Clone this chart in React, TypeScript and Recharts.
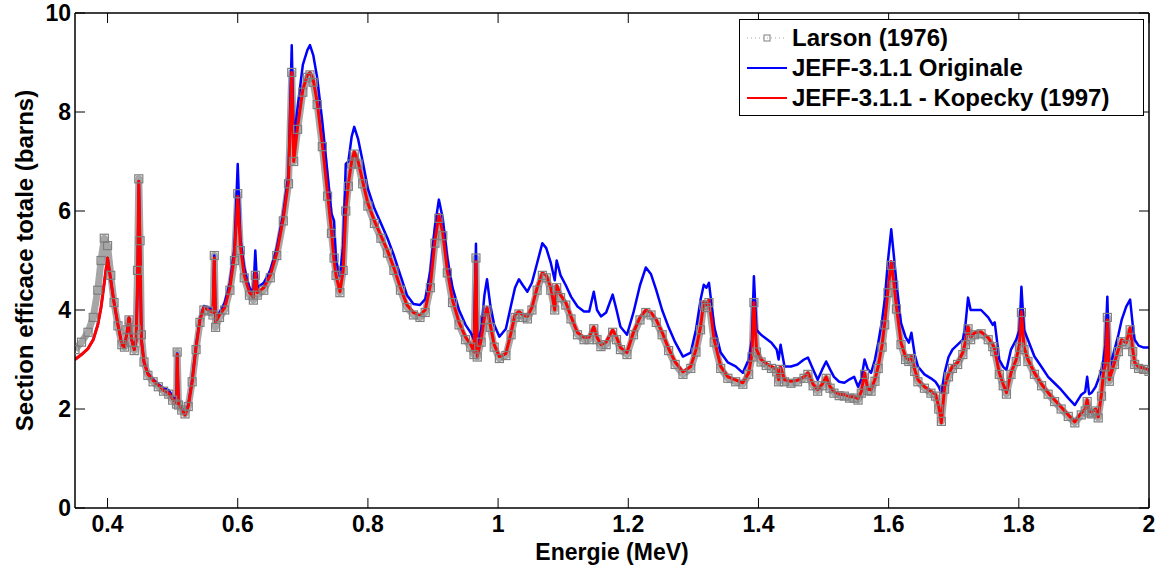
import React from 'react';
import { LineChart, Line, XAxis, YAxis, Legend } from 'recharts';

// Energy grid (MeV) shared by the three curves
const energy = [
  0.350, 0.360, 0.370, 0.378, 0.385, 0.390, 0.395, 0.400, 0.405, 0.410,
  0.416, 0.422, 0.426, 0.430, 0.433, 0.437, 0.441, 0.444, 0.446, 0.448,
  0.450, 0.452, 0.456, 0.462, 0.470, 0.478, 0.486, 0.494, 0.500, 0.506,
  0.507, 0.509, 0.514, 0.519, 0.524, 0.530, 0.536, 0.542, 0.548, 0.555,
  0.562, 0.564, 0.566, 0.572, 0.580, 0.588, 0.595, 0.600, 0.604, 0.610,
  0.618, 0.624, 0.627, 0.630, 0.640, 0.650, 0.660, 0.670, 0.678, 0.683,
  0.686, 0.692, 0.700, 0.707, 0.711, 0.716, 0.722, 0.730, 0.738, 0.744,
  0.748, 0.751, 0.757, 0.762, 0.766, 0.770, 0.775, 0.779, 0.785, 0.792,
  0.800, 0.810, 0.820, 0.830, 0.840, 0.850, 0.860, 0.870, 0.880, 0.888,
  0.896, 0.903, 0.909, 0.915, 0.922, 0.930, 0.940, 0.950, 0.958, 0.963,
  0.966, 0.968, 0.974, 0.979, 0.983, 0.988, 0.994, 1.002, 1.012, 1.020,
  1.026, 1.032, 1.038, 1.045, 1.052, 1.060, 1.068, 1.074, 1.081, 1.087,
  1.090, 1.096, 1.104, 1.112, 1.122, 1.132, 1.140, 1.147, 1.152, 1.158,
  1.166, 1.176, 1.182, 1.188, 1.198, 1.208, 1.218, 1.227, 1.235, 1.243,
  1.252, 1.262, 1.272, 1.284, 1.296, 1.304, 1.311, 1.316, 1.320, 1.324,
  1.332, 1.342, 1.353, 1.365, 1.376, 1.385, 1.390, 1.393, 1.397, 1.404,
  1.412, 1.420, 1.428, 1.431, 1.434, 1.440, 1.450, 1.460, 1.470, 1.476,
  1.484, 1.491, 1.498, 1.504, 1.510, 1.516, 1.524, 1.532, 1.540, 1.547,
  1.553, 1.558, 1.563, 1.568, 1.573, 1.579, 1.584, 1.590, 1.594, 1.599,
  1.604, 1.608, 1.612, 1.619, 1.626, 1.631, 1.635, 1.640, 1.645, 1.655,
  1.665, 1.672, 1.677, 1.681, 1.686, 1.692, 1.698, 1.706, 1.714, 1.718,
  1.722, 1.726, 1.732, 1.742, 1.753, 1.760, 1.763, 1.770, 1.776, 1.781,
  1.788, 1.796, 1.801, 1.804, 1.808, 1.814, 1.824, 1.835, 1.845, 1.855,
  1.865, 1.876, 1.886, 1.896, 1.902, 1.905, 1.908, 1.912, 1.918, 1.922,
  1.927, 1.930, 1.933, 1.936, 1.939, 1.947, 1.953, 1.958, 1.965, 1.971,
  1.975, 1.978, 1.984, 1.992, 2.000,
];

// JEFF-3.1.1 original evaluation (barns)
const jeffOriginal = [
  3.00, 3.10, 3.22, 3.40, 3.70, 4.05, 4.55, 5.05, 4.60, 4.15,
  3.70, 3.30, 3.25, 3.55, 3.85, 3.40, 3.20, 3.40, 4.50, 6.60,
  5.20, 3.40, 2.95, 2.72, 2.60, 2.50, 2.42, 2.38, 2.25, 2.15,
  3.12, 2.12, 2.02, 1.90, 2.08, 2.58, 3.28, 3.82, 4.08, 4.05,
  4.00, 5.10, 3.80, 3.95, 4.15, 4.55, 5.25, 6.95, 5.45, 4.85,
  4.45, 4.35, 5.20, 4.45, 4.55, 4.80, 5.25, 5.95, 6.75, 9.35,
  7.40, 8.10, 8.95, 9.25, 9.35, 9.15, 8.70, 7.80, 6.75, 5.95,
  5.80, 5.00, 4.68, 5.30, 6.95, 7.00, 7.50, 7.70, 7.45, 7.00,
  6.45, 6.05, 5.75, 5.45, 5.10, 4.70, 4.30, 4.12, 4.10, 4.22,
  4.80, 5.70, 6.23, 5.85, 5.05, 4.45, 4.00, 3.70, 3.54, 3.40,
  5.34, 3.30, 3.60, 4.30, 4.62, 4.10, 3.70, 3.46, 3.62, 4.10,
  4.45, 4.62, 4.50, 4.37, 4.55, 4.95, 5.35, 5.25, 4.95, 4.60,
  5.00, 4.70, 4.50, 4.27, 4.07, 3.97, 3.97, 4.37, 4.00, 3.87,
  3.95, 4.31, 4.00, 3.66, 3.50, 3.95, 4.50, 4.86, 4.72, 4.40,
  4.00, 3.65, 3.35, 3.06, 3.14, 3.60, 4.20, 4.51, 4.45, 4.55,
  3.66, 3.14, 2.94, 2.86, 2.73, 3.00, 3.40, 4.68, 3.60, 3.50,
  3.42, 3.34, 3.20, 3.00, 3.30, 2.86, 2.86, 2.90, 3.00, 3.04,
  2.80, 2.59, 2.80, 2.96, 2.80, 2.65, 2.55, 2.53, 2.60, 2.65,
  2.45, 2.60, 3.00, 2.80, 2.73, 3.00, 3.34, 3.80, 4.21, 5.00,
  5.63, 5.10, 4.55, 3.74, 3.45, 3.34, 3.54, 3.10, 2.86, 2.70,
  2.62, 2.55, 2.45, 2.33, 2.73, 3.05, 3.20, 3.30, 3.40, 3.70,
  4.25, 4.00, 4.00, 4.00, 3.85, 3.70, 3.75, 3.00, 2.85, 2.79,
  3.20, 3.40, 3.60, 4.47, 3.60, 3.40, 3.06, 2.85, 2.65, 2.52,
  2.39, 2.22, 2.08, 2.29, 2.35, 2.65, 2.30, 2.33, 2.45, 2.59,
  2.80, 3.00, 3.30, 4.27, 2.79, 3.20, 3.50, 3.80, 4.07, 4.21,
  3.70, 3.40, 3.28, 3.24, 3.24,
];

// JEFF-3.1.1 with Kopecky (1997) resonances (barns)
const jeffKopecky = [
  3.00, 3.10, 3.22, 3.40, 3.70, 4.05, 4.55, 5.05, 4.60, 4.15,
  3.70, 3.30, 3.25, 3.55, 3.85, 3.40, 3.20, 3.40, 4.50, 6.60,
  5.20, 3.40, 2.95, 2.70, 2.58, 2.48, 2.38, 2.32, 2.20, 2.12,
  3.10, 2.10, 2.00, 1.88, 2.05, 2.55, 3.25, 3.80, 4.05, 4.00,
  3.95, 5.05, 3.75, 3.90, 4.05, 4.45, 5.10, 6.30, 5.30, 4.70,
  4.35, 4.25, 4.75, 4.35, 4.45, 4.70, 5.15, 5.85, 6.60, 8.80,
  7.00, 7.70, 8.45, 8.75, 8.80, 8.65, 8.20, 7.35, 6.35, 5.60,
  5.00, 4.70, 4.37, 4.80, 6.00, 6.55, 7.00, 7.20, 7.00, 6.60,
  6.15, 5.80, 5.50, 5.20, 4.85, 4.45, 4.10, 3.95, 3.90, 4.00,
  4.50, 5.40, 5.93, 5.55, 4.80, 4.20, 3.75, 3.45, 3.30, 3.15,
  4.98, 3.06, 3.40, 3.85, 4.05, 3.70, 3.30, 3.06, 3.12, 3.55,
  3.90, 3.97, 3.90, 3.87, 4.05, 4.45, 4.75, 4.70, 4.45, 4.00,
  4.50, 4.30, 4.15, 3.87, 3.54, 3.45, 3.45, 3.66, 3.45, 3.30,
  3.35, 3.60, 3.45, 3.24, 3.14, 3.55, 3.85, 4.00, 3.95, 3.80,
  3.55, 3.22, 2.95, 2.75, 2.86, 3.20, 3.66, 4.17, 4.10, 4.21,
  3.40, 2.86, 2.65, 2.59, 2.53, 2.73, 3.10, 4.15, 3.20, 3.00,
  2.92, 2.86, 2.80, 2.59, 2.85, 2.59, 2.56, 2.58, 2.65, 2.73,
  2.50, 2.39, 2.50, 2.65, 2.45, 2.35, 2.30, 2.29, 2.25, 2.25,
  2.21, 2.35, 2.73, 2.40, 2.39, 2.60, 2.86, 3.30, 3.74, 4.40,
  4.98, 4.55, 4.07, 3.34, 3.05, 3.00, 3.06, 2.80, 2.59, 2.45,
  2.36, 2.30, 2.05, 1.72, 2.45, 2.70, 2.86, 2.94, 3.14, 3.35,
  3.66, 3.45, 3.54, 3.56, 3.44, 3.30, 3.20, 2.73, 2.50, 2.33,
  2.73, 3.00, 3.30, 3.97, 3.25, 3.00, 2.73, 2.50, 2.33, 2.18,
  2.04, 1.88, 1.74, 1.92, 2.00, 2.19, 1.95, 1.94, 2.00, 1.84,
  2.30, 2.73, 2.90, 3.80, 2.59, 2.94, 3.20, 3.40, 3.34, 3.64,
  3.20, 2.94, 2.85, 2.83, 2.79,
];

// Larson (1976) measurement (barns)
const larson = [
  3.20, 3.35, 3.55, 3.85, 4.40, 5.00, 5.45, 5.30, 4.70, 4.15,
  3.68, 3.30, 3.25, 3.60, 3.80, 3.35, 3.18, 3.60, 4.80, 6.65,
  5.40, 3.50, 2.95, 2.68, 2.55, 2.45, 2.36, 2.30, 2.18, 2.10,
  3.15, 2.08, 1.98, 1.90, 2.05, 2.55, 3.20, 3.75, 4.00, 3.98,
  3.90, 5.10, 3.65, 3.85, 4.00, 4.40, 5.00, 6.35, 5.20, 4.65,
  4.30, 4.20, 4.70, 4.30, 4.40, 4.65, 5.10, 5.80, 6.55, 8.80,
  7.00, 7.65, 8.40, 8.70, 8.75, 8.60, 8.15, 7.30, 6.30, 5.55,
  5.05, 4.70, 4.35, 4.80, 6.00, 6.50, 6.95, 7.15, 6.95, 6.55,
  6.10, 5.75, 5.45, 5.15, 4.80, 4.40, 4.05, 3.90, 3.85, 3.95,
  4.45, 5.35, 5.85, 5.50, 4.75, 4.15, 3.70, 3.40, 3.25, 3.10,
  5.05, 3.05, 3.35, 3.80, 4.00, 3.65, 3.25, 3.02, 3.08, 3.50,
  3.85, 3.92, 3.85, 3.82, 4.00, 4.40, 4.70, 4.65, 4.40, 4.00,
  4.45, 4.25, 4.10, 3.82, 3.50, 3.40, 3.40, 3.62, 3.40, 3.26,
  3.30, 3.55, 3.40, 3.20, 3.10, 3.50, 3.80, 3.95, 3.90, 3.75,
  3.50, 3.18, 2.90, 2.70, 2.82, 3.15, 3.60, 4.10, 4.05, 4.15,
  3.35, 2.82, 2.62, 2.55, 2.50, 2.70, 3.05, 4.15, 3.15, 2.95,
  2.88, 2.82, 2.75, 2.55, 2.80, 2.55, 2.52, 2.55, 2.62, 2.70,
  2.47, 2.36, 2.47, 2.62, 2.42, 2.32, 2.27, 2.26, 2.22, 2.22,
  2.18, 2.32, 2.70, 2.37, 2.36, 2.56, 2.82, 3.25, 3.70, 4.35,
  4.90, 4.50, 4.02, 3.30, 3.00, 2.96, 3.02, 2.76, 2.55, 2.42,
  2.32, 2.26, 2.00, 1.75, 2.40, 2.65, 2.82, 2.90, 3.10, 3.30,
  3.62, 3.40, 3.50, 3.52, 3.40, 3.26, 3.16, 2.70, 2.47, 2.30,
  2.70, 2.96, 3.25, 3.95, 3.20, 2.96, 2.70, 2.47, 2.30, 2.15,
  2.00, 1.85, 1.72, 1.88, 1.96, 2.15, 1.92, 1.90, 1.96, 1.82,
  2.26, 2.70, 2.85, 3.85, 2.56, 2.90, 3.16, 3.36, 3.30, 3.60,
  3.16, 2.90, 2.82, 2.80, 2.76,
];

const xTicks = [0.4, 0.6, 0.8, 1, 1.2, 1.4, 1.6, 1.8, 2];
const yTicks = [0, 2, 4, 6, 8, 10];
const legendOrder = ['larson', 'original', 'kopecky'];

const FONT = '"Liberation Sans", Arial, Helvetica, sans-serif';
const GRAY = '#7f7f7f';

const data = energy.map((e, i) => ({
  energy: e,
  larson: larson[i],
  original: jeffOriginal[i],
  kopecky: jeffKopecky[i],
}));

const tickStyle = { fontSize: 23, fontWeight: 'bold', fill: '#000', fontFamily: FONT };

// inner tick marks only, no label
const NoLabel = () => <g />;

const renderSquare = (props: any) => {
  const { cx, cy, index } = props;
  if (cx == null || cy == null) return <g key={`sq-${index}`} />;
  return (
    <rect
      key={`sq-${index}`}
      x={cx - 4}
      y={cy - 4}
      width={8}
      height={8}
      fill="none"
      stroke={GRAY}
      strokeWidth={1.2}
    />
  );
};

const YAxisTitle = ({ viewBox }: any) => {
  const x = viewBox.x + 9;
  const y = viewBox.y + viewBox.height / 2;
  return (
    <text
      x={x}
      y={y}
      transform={`rotate(-90 ${x} ${y})`}
      textAnchor="middle"
      dominantBaseline="central"
      fontSize={24}
      fontWeight="bold"
      fontFamily={FONT}
      fill="#000"
    >
      Section efficace totale (barns)
    </text>
  );
};

const LegendBox = ({ payload }: any) => {
  const items = [...(payload || [])].sort(
    (a: any, b: any) => legendOrder.indexOf(a.dataKey) - legendOrder.indexOf(b.dataKey)
  );
  return (
    <div
      style={{
        border: '1px solid #000',
        background: '#fff',
        paddingTop: 3,
        height: 97,
        boxSizing: 'border-box',
        fontFamily: FONT,
        fontWeight: 'bold',
        fontSize: 24,
        color: '#000',
      }}
    >
      {items.map((entry: any) => (
        <div key={entry.value} style={{ display: 'flex', alignItems: 'center', height: 30 }}>
          <svg width={45} height={30} style={{ marginLeft: 7, flex: 'none' }}>
            {entry.dataKey === 'larson' ? (
              <>
                <line x1={0} y1={15} x2={40} y2={15} stroke="#aaa" strokeDasharray="1 3" />
                <rect x={17} y={12} width={6} height={6} fill="none" stroke={GRAY} />
              </>
            ) : (
              <line x1={0} y1={15} x2={40} y2={15} stroke={entry.color} strokeWidth={2} />
            )}
          </svg>
          <span style={{ whiteSpace: 'nowrap' }}>{entry.value}</span>
        </div>
      ))}
    </div>
  );
};

export default function App() {
  return (
    <div style={{ position: 'fixed', left: 0, top: 0, width: 1159, height: 569, background: '#fff' }}>
      <LineChart
        width={1159}
        height={569}
        data={data}
        margin={{ top: 13, right: 10, left: 15, bottom: 1 }}
      >
        <XAxis
          dataKey="energy"
          type="number"
          domain={[0.35, 2]}
          ticks={xTicks}
          allowDataOverflow
          height={60}
          tickLine={false}
          tickSize={0}
          tickMargin={8}
          tick={tickStyle}
          axisLine={{ stroke: '#000', strokeWidth: 1.5 }}
          label={{
            value: 'Energie (MeV)',
            position: 'insideBottom',
            offset: 8,
            fontSize: 23,
            fontWeight: 'bold',
            fill: '#000',
            fontFamily: FONT,
          }}
        />
        <XAxis
          xAxisId="xb"
          dataKey="energy"
          type="number"
          orientation="bottom"
          domain={[0.35, 2]}
          ticks={xTicks}
          allowDataOverflow
          mirror
          tick={NoLabel}
          axisLine={false}
          tickSize={10}
          tickLine={{ stroke: '#000' }}
        />
        <XAxis
          xAxisId="xt"
          dataKey="energy"
          type="number"
          orientation="top"
          domain={[0.35, 2]}
          ticks={xTicks}
          allowDataOverflow
          mirror
          tick={NoLabel}
          tickSize={10}
          tickLine={{ stroke: '#000' }}
          axisLine={{ stroke: '#000', strokeWidth: 1.5 }}
        />
        <YAxis
          type="number"
          domain={[0, 10]}
          ticks={yTicks}
          allowDataOverflow
          width={60}
          tickLine={false}
          tickSize={0}
          tickMargin={4}
          tick={tickStyle}
          axisLine={{ stroke: '#000', strokeWidth: 1.5 }}
          label={{ content: YAxisTitle }}
        />
        <YAxis
          yAxisId="yl"
          type="number"
          orientation="left"
          domain={[0, 10]}
          ticks={yTicks}
          allowDataOverflow
          mirror
          tick={NoLabel}
          axisLine={false}
          tickSize={10}
          tickLine={{ stroke: '#000' }}
        />
        <YAxis
          yAxisId="yr"
          type="number"
          orientation="right"
          domain={[0, 10]}
          ticks={yTicks}
          allowDataOverflow
          mirror
          tick={NoLabel}
          tickSize={10}
          tickLine={{ stroke: '#000' }}
          axisLine={{ stroke: '#000', strokeWidth: 1.5 }}
        />
        <Legend
          layout="vertical"
          align="center"
          verticalAlign="middle"
          content={<LegendBox />}
          wrapperStyle={{ left: 739, top: 19, width: 405, height: 97 }}
        />
        <Line
          type="linear"
          dataKey="larson"
          name="Larson (1976)"
          stroke="#a6a6a6"
          strokeWidth={7}
          strokeLinejoin="round"
          dot={renderSquare}
          activeDot={false}
          isAnimationActive={false}
        />
        <Line
          type="linear"
          dataKey="original"
          name="JEFF-3.1.1 Originale"
          stroke="#0000ff"
          strokeWidth={2.5}
          strokeLinejoin="round"
          dot={false}
          activeDot={false}
          isAnimationActive={false}
        />
        <Line
          type="linear"
          dataKey="kopecky"
          name="JEFF-3.1.1 - Kopecky (1997)"
          stroke="#ff0000"
          strokeWidth={3}
          strokeLinejoin="round"
          dot={false}
          activeDot={false}
          isAnimationActive={false}
        />
      </LineChart>
    </div>
  );
}
